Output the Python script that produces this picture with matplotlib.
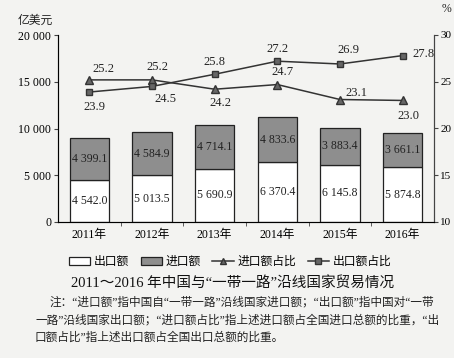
import matplotlib
matplotlib.use("Agg")
import matplotlib.pyplot as plt
from matplotlib.patches import Patch
from matplotlib.lines import Line2D

years = ["2011年", "2012年", "2013年", "2014年", "2015年", "2016年"]
export_amt = [4542.0, 5013.5, 5690.9, 6370.4, 6145.8, 5874.8]
import_amt = [4399.1, 4584.9, 4714.1, 4833.6, 3883.4, 3661.1]
import_share = [25.2, 25.2, 24.2, 24.7, 23.1, 23.0]
export_share = [23.9, 24.5, 25.8, 27.2, 26.9, 27.8]

FAM = ["Liberation Serif", "Noto Sans CJK SC", "DejaVu Sans"]
plt.rcParams["font.family"] = FAM

bg = "#f3f3f1"
fig = plt.figure(figsize=(4.54, 3.58), dpi=100, facecolor=bg)
ax = fig.add_axes([58/454, 1-222/358, (434-58)/454, (222-35)/358])
ax.set_facecolor(bg)

x = list(range(len(years)))
w = 0.63
ax.bar(x, export_amt, width=w, color="white", edgecolor="#222222", linewidth=0.9, zorder=2)
ax.bar(x, import_amt, width=w, bottom=export_amt, color="#8e8e8e", edgecolor="#222222", linewidth=0.9, zorder=2)

def fmt(v):
    s = f"{v:,.1f}"
    return s.replace(",", " ")

for i in x:
    ax.text(i, export_amt[i]/2, fmt(export_amt[i]), ha="center", va="center", fontsize=8.5, color="#222222", zorder=3)
    ax.text(i, export_amt[i] + import_amt[i]/2, fmt(import_amt[i]), ha="center", va="center", fontsize=8.5, color="#222222", zorder=3)

ax.set_xlim(-0.5, 5.5)
ax.set_ylim(0, 20000)
ax.set_yticks([0, 5000, 10000, 15000, 20000])
ax.set_yticklabels(["0", "5 000", "10 000", "15 000", "20 000"], fontsize=8.5)
ax.set_xticks(x)
ax.set_xticklabels(years, fontsize=8.5)
ax.tick_params(axis="x", length=0, pad=5)
ax.set_xticks([0.5, 1.5, 2.5, 3.5, 4.5], minor=True)
ax.tick_params(axis="x", which="minor", length=3, direction="out", color="#444444")
ax.tick_params(axis="y", length=3, direction="out", color="#444444", pad=2)
ax.spines["top"].set_visible(False)
for s in ["left", "bottom", "right"]:
    ax.spines[s].set_color("#444444")
    ax.spines[s].set_linewidth(0.8)

ax2 = ax.twinx()
ax2.set_ylim(10, 30)
ax2.set_yticks([10, 15, 20, 25, 30])
ax2.set_yticklabels(["10", "15", "20", "25", "30"], fontsize=8)
ax2.tick_params(axis="y", length=3, direction="out", color="#444444", pad=1.5)
ax2.spines["top"].set_visible(False)
ax2.spines["right"].set_color("#444444")
ax2.spines["right"].set_linewidth(0.8)

ax2.plot(x, import_share, color="#333333", lw=1.1, marker="^", ms=5.5, mfc="#666666", mec="#333333", zorder=4)
ax2.plot(x, export_share, color="#333333", lw=1.1, marker="s", ms=5, mfc="#666666", mec="#333333", zorder=4)

imp_off = [(10, 8), (4, 9), (4, -10), (4, 9), (12, 5), (4, -11)]
exp_off = [(4, -11), (10, -9), (0, 9), (0, 9), (6, 10), (15, 1)]
for i in x:
    dx, dy = imp_off[i]
    ax2.annotate(f"{import_share[i]:.1f}", (i, import_share[i]), xytext=(dx, dy), textcoords="offset points",
                 ha="center", va="center", fontsize=9, color="#222222")
    dx, dy = exp_off[i]
    ax2.annotate(f"{export_share[i]:.1f}", (i, export_share[i]), xytext=(dx, dy), textcoords="offset points",
                 ha="center", va="center", fontsize=9, color="#222222")

fig.text(35/454, 1-21/358, "亿美元", ha="center", va="center", fontsize=8.5, color="#222222")
fig.text(447/454, 1-9/358, "%", ha="center", va="center", fontsize=8.5, color="#222222")

handles = [
    Patch(facecolor="white", edgecolor="#222222", linewidth=0.9),
    Patch(facecolor="#8e8e8e", edgecolor="#222222", linewidth=0.9),
    Line2D([0], [0], color="#333333", lw=1.1, marker="^", ms=5, mfc="#666666", mec="#333333"),
    Line2D([0], [0], color="#333333", lw=1.1, marker="s", ms=4.5, mfc="#666666", mec="#333333"),
]
labels = ["出口额", "进口额", "进口额占比", "出口额占比"]
fig.legend(handles, labels, loc="center", bbox_to_anchor=(230/454, 1-262/358), ncol=4, frameon=False,
           fontsize=8.5, handlelength=1.8, handleheight=0.6, columnspacing=1.0, handletextpad=0.3)

fig.text(233/454, 1-283/358, "2011～2016 年中国与“一带一路”沿线国家贸易情况", ha="center", va="center",
         fontsize=10.5, color="#111111")

notes = [
    (50, 302, "注：“进口额”指中国自“一带一路”沿线国家进口额；“出口额”指中国对“一带"),
    (35, 320, "一路”沿线国家出口额；“进口额占比”指上述进口额占全国进口总额的比重，“出"),
    (35, 338, "口额占比”指上述出口额占全国出口总额的比重。"),
]
for nx, ny, t in notes:
    fig.text(nx/454, 1-ny/358, t, ha="left", va="center", fontsize=8.4, color="#222222")

fig.savefig("out.png", dpi=100, facecolor=bg)
